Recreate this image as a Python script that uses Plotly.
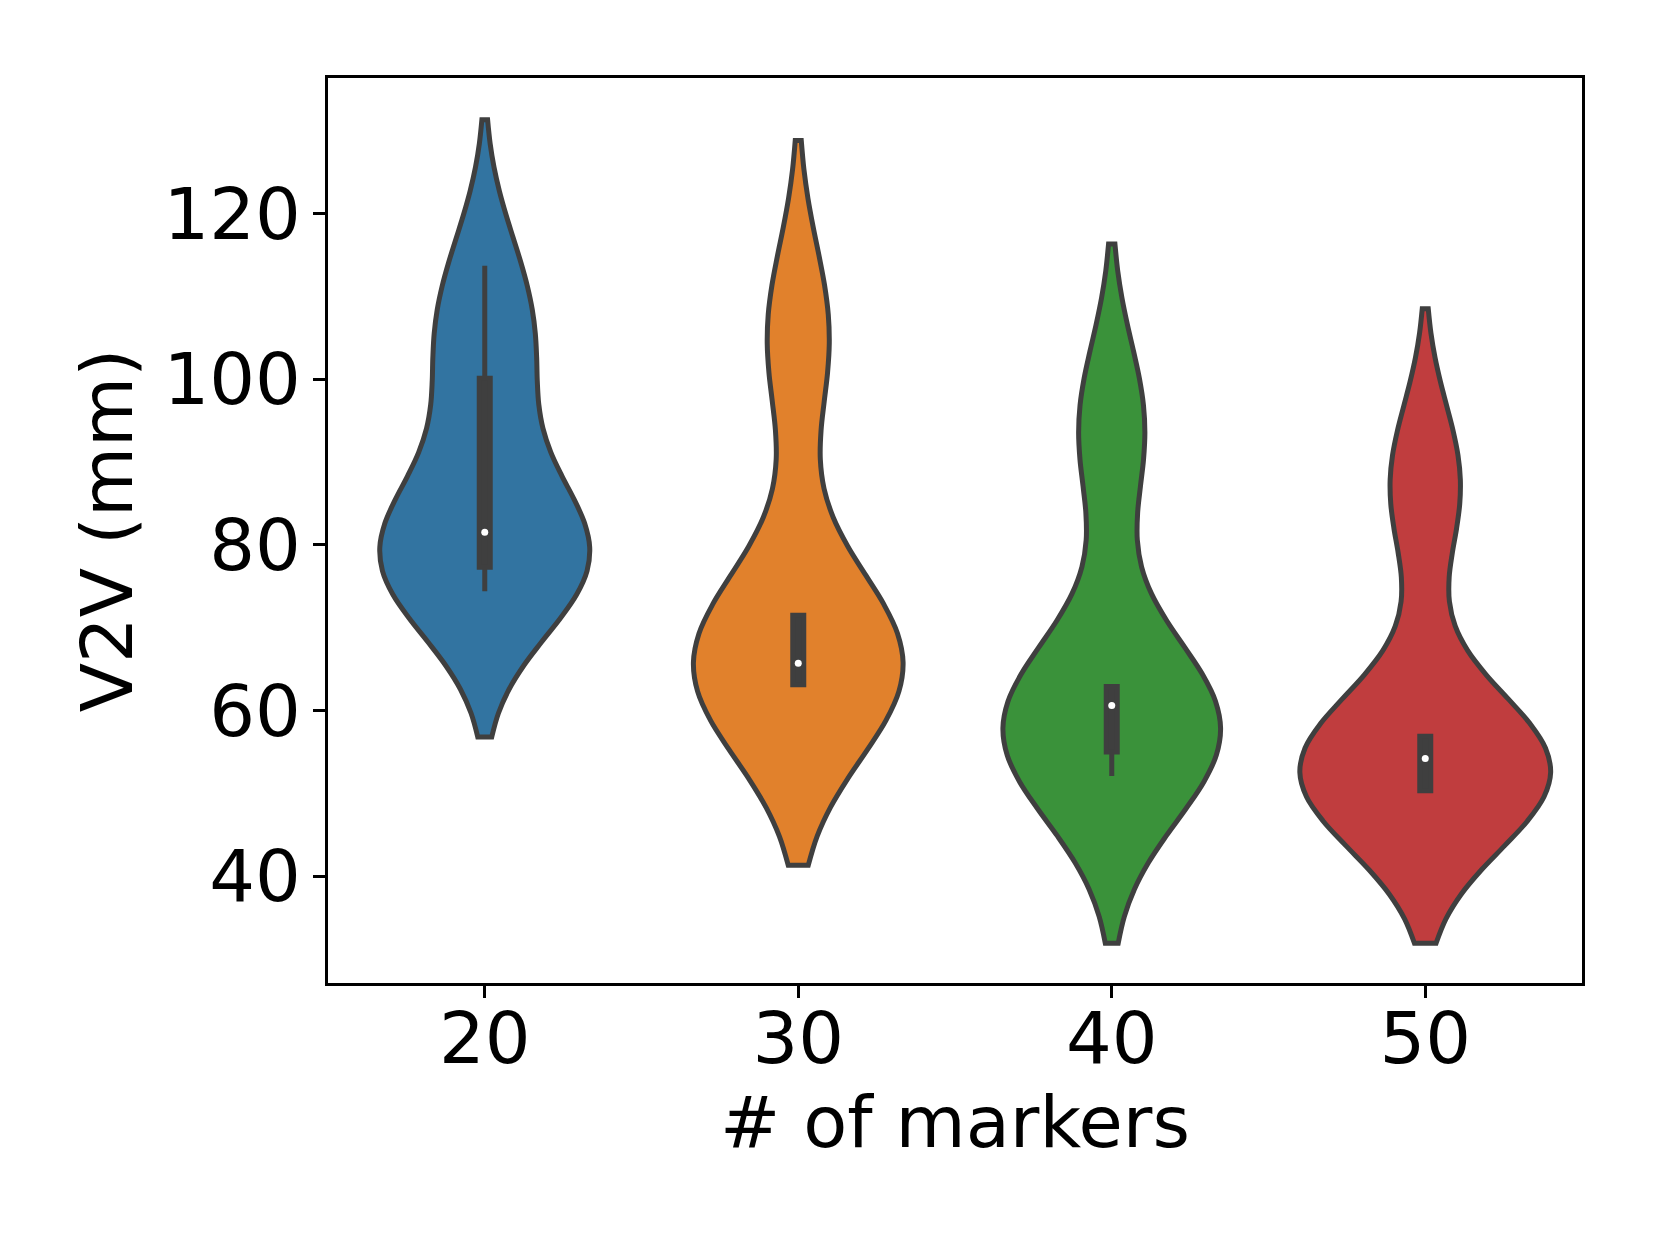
import numpy as np
import plotly.graph_objects as go

# V2V error (mm) per number of markers
categories = ["20", "30", "40", "50"]
v2v_20 = [74.4, 75.5, 77.3, 79.5, 81.5, 87.0, 100.1, 105.0, 113.7]
v2v_30 = [62.8, 63.0, 63.1, 63.5, 65.7, 70.0, 71.5, 103.0, 107.3]
v2v_40 = [52.1, 53.5, 55.0, 58.0, 60.6, 61.5, 62.9, 92.0, 96.1]
v2v_50 = [50.0, 50.2, 50.3, 52.0, 54.2, 55.5, 56.9, 84.0, 90.4]
samples = [v2v_20, v2v_30, v2v_40, v2v_50]

# kde bandwidths (the violins end 2 bandwidths past the data)
bandwidths = [8.8, 10.75, 10.1, 9.05]

colors = ["#3274a1", "#e1812c", "#3a923a", "#c03d3e"]
edge = "#3f3f3f"
font = "DejaVu Sans"

W, H = 1660, 1245
margin = dict(l=320, r=86, t=70, b=270)
px_per_cat = (W - margin["l"] - margin["r"]) / 4.0


def kde_peak(data, bw):
    data = np.asarray(data, dtype=float)
    grid = np.linspace(data.min() - 2 * bw, data.max() + 2 * bw, 400)
    dens = np.exp(-0.5 * ((grid[:, None] - data[None, :]) / bw) ** 2).sum(axis=1)
    return (dens / (len(data) * bw * np.sqrt(2 * np.pi))).max()


# seaborn-like "area" scaling: widest density gets width 0.8
peaks = [kde_peak(d, b) for d, b in zip(samples, bandwidths)]
widths = [0.8 * p / max(peaks) for p in peaks]

fig = go.Figure()
for cat, data, bw, col, w in zip(categories, samples, bandwidths, colors, widths):
    fig.add_trace(go.Violin(
        x=[cat] * len(data), y=data,
        bandwidth=bw, spanmode="soft", scalemode="width", width=w,
        fillcolor=col, opacity=1, line=dict(color=edge, width=5),
        points="outliers", marker=dict(size=1, opacity=0),
        quartilemethod="inclusive",
        box=dict(visible=True, width=11 / (w * px_per_cat),
                 fillcolor=edge, line=dict(color=edge, width=5)),
        meanline=dict(visible=False),
        showlegend=False, hoverinfo="skip",
    ))

# white median dots
fig.add_trace(go.Scatter(
    x=categories, y=[float(np.median(d)) for d in samples],
    mode="markers", marker=dict(color="white", size=7),
    showlegend=False, hoverinfo="skip",
))

axis_style = dict(
    showline=True, linecolor="black", linewidth=2.5, mirror=True,
    ticks="outside", ticklen=12, tickwidth=2.5, tickcolor="black",
    showgrid=False, zeroline=False,
    tickfont=dict(family=font, size=72, color="black"),
)

fig.update_layout(
    width=W, height=H, margin=margin,
    paper_bgcolor="white", plot_bgcolor="white",
    violinmode="overlay", violingap=0,
    font=dict(family=font, size=72, color="black"),
    xaxis=dict(type="category", categoryorder="array", categoryarray=categories,
               range=[-0.5, 3.5], ticklabelstandoff=-21,
               title=dict(text="# of markers", standoff=8,
                          font=dict(family=font, size=72)),
               **axis_style),
    yaxis=dict(range=[27.1, 136.35], tickvals=[40, 60, 80, 100, 120],
               ticklabelstandoff=-2,
               title=dict(text="V2V (mm)", standoff=8,
                          font=dict(family=font, size=72)),
               **axis_style),
)

fig.write_html("out.html")
